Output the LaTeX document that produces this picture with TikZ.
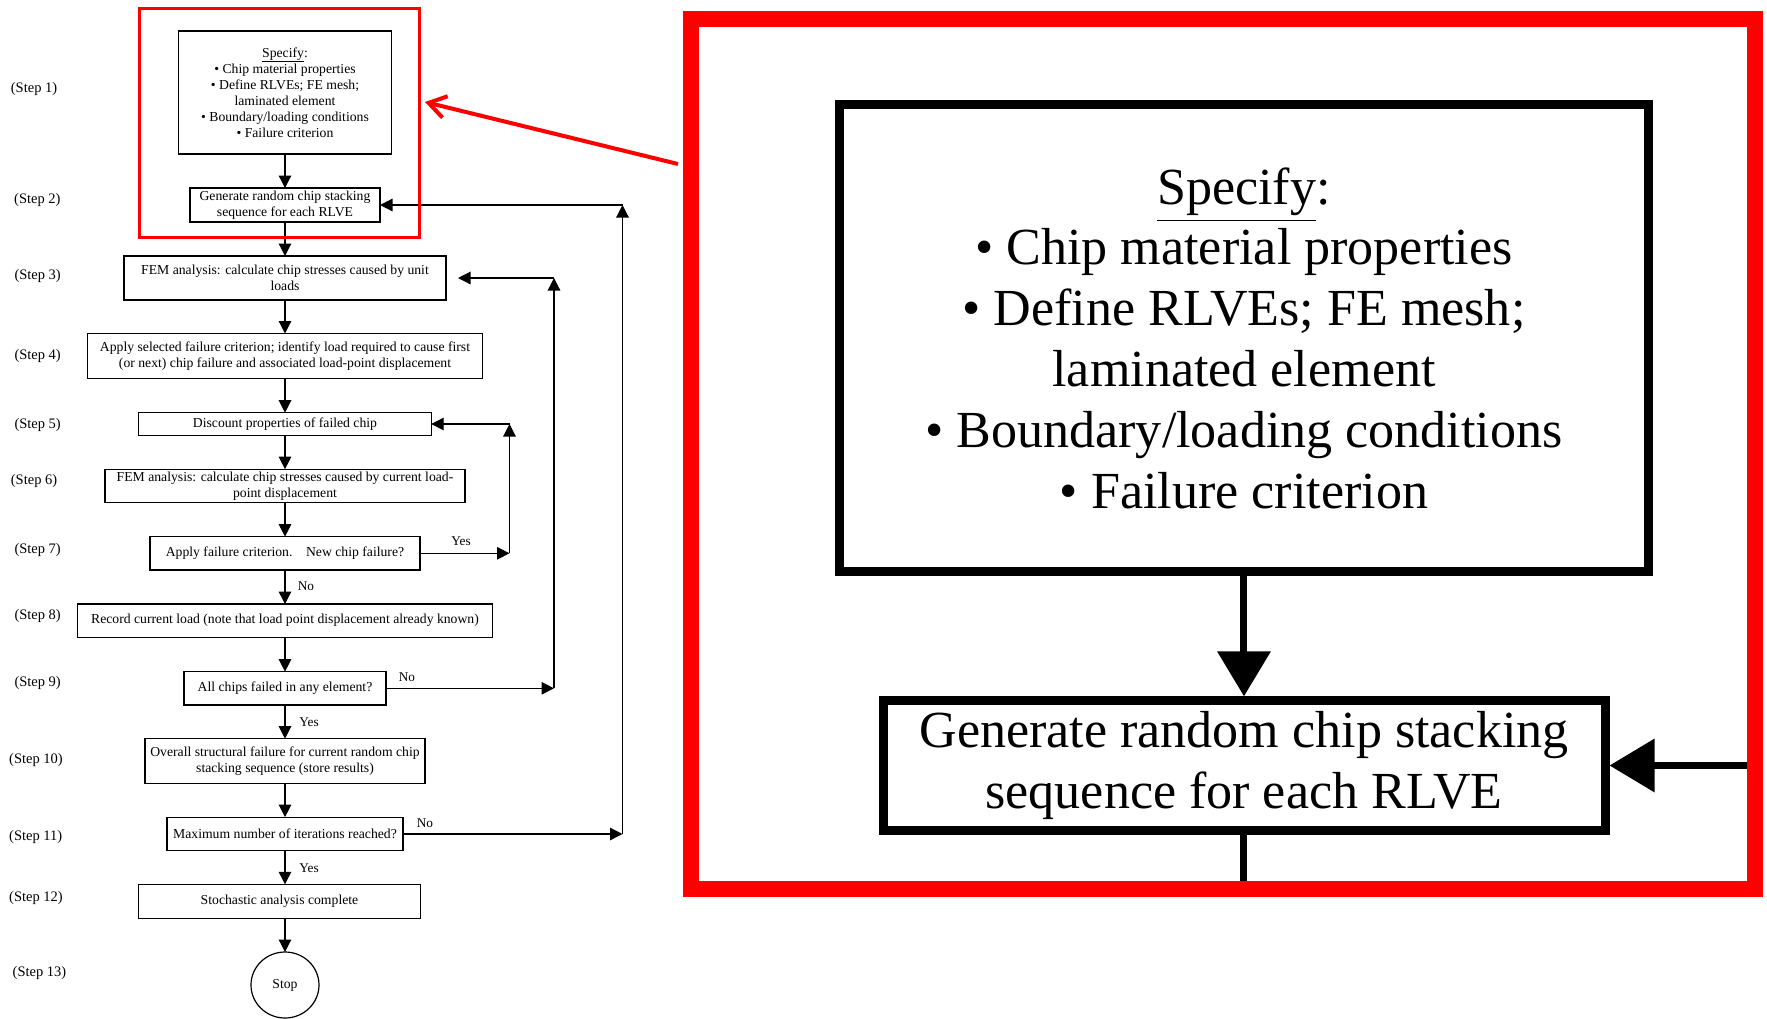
\documentclass[tikz,border=0pt]{standalone}
\usepackage{fontspec}
\setmainfont{Liberation Serif}
\usetikzlibrary{arrows.meta,shapes.geometric}
\newcommand\bxfont{\fontsize{13.7}{16}\selectfont}
\newcommand\lbfont{\fontsize{14.5}{16}\selectfont}
\newcommand\ynfont{\fontsize{13.3}{15}\selectfont}
\definecolor{redx}{RGB}{255,0,0}
\tikzset{
 box/.style={draw, line width=1.2pt, inner sep=0pt, outer sep=0pt, align=center, font=\bxfont},
 conn/.style={line width=1.2pt, -{Triangle[length=12.5pt,width=12.5pt]}},
 plain/.style={line width=1.2pt},
 steplab/.style={anchor=west, inner sep=0pt, font=\lbfont},
 yn/.style={inner sep=0pt, font=\ynfont},
}
\newcommand\topboxes{%
 \node[box, minimum width=213pt, minimum height=123pt] (s1) at (285,92.5) {\underline{Specify}:\\ • Chip material properties\\ • Define RLVEs; FE mesh;\\ laminated element\\ • Boundary/loading conditions\\ • Failure criterion};
 \node[box, minimum width=190pt, minimum height=34pt] (s2) at (285,205) {Generate random chip stacking\\ sequence for each RLVE};
 \draw[conn] (s1.south) -- (s2.north);
}
\begin{document}
\begin{tikzpicture}[x=1pt,y=-1pt]
\useasboundingbox (0,0) rectangle (1767,1018);
\topboxes
\node[box, minimum width=322pt, minimum height=44pt] (s3) at (285,278) {FEM analysis: calculate chip stresses caused by unit\\ loads};
\node[box, minimum width=395.5pt, minimum height=45pt] (s4) at (285,356) {Apply selected failure criterion; identify load required to cause first\\ (or next) chip failure and associated load-point displacement};
\node[box, minimum width=292.4pt, minimum height=22.6pt] (s5) at (285,424) {Discount properties of failed chip};
\node[box, minimum width=360pt, minimum height=33.7pt] (s6) at (285,486) {FEM analysis: calculate chip stresses caused by current load-\\ point displacement};
\node[box, minimum width=270pt, minimum height=33.3pt] (s7) at (285,553.3) {Apply failure criterion.\hspace{9pt} New chip failure?};
\node[box, minimum width=415.5pt, minimum height=33.3pt] (s8) at (285,620.7) {Record current load (note that load point displacement already known)};
\node[box, minimum width=202pt, minimum height=33.3pt] (s9) at (285,688.3) {All chips failed in any element?};
\node[box, minimum width=280pt, minimum height=44.6pt] (s10) at (285,761) {Overall structural failure for current random chip\\ stacking sequence (store results)};
\node[box, minimum width=236pt, minimum height=33.7pt] (s11) at (285,834) {Maximum number of iterations reached?};
\node[box, minimum width=281.4pt, minimum height=34pt] (s12) at (279.5,901.3) {Stochastic analysis complete};
\node[box, ellipse, minimum width=68pt, minimum height=66pt] (stop) at (285,985) {Stop};
% step labels
\node[steplab] (l1) at (10.7,89) {(Step 1)};
\node[steplab] (l2) at (14,200) {(Step 2)};
\node[steplab] (l3) at (14.3,276) {(Step 3)};
\node[steplab] (l4) at (14.3,355.7) {(Step 4)};
\node[steplab] (l5) at (14.3,425) {(Step 5)};
\node[steplab] (l6) at (10.7,480.7) {(Step 6)};
\node[steplab] (l7) at (14.3,550) {(Step 7)};
\node[steplab] (l8) at (14.3,615.7) {(Step 8)};
\node[steplab] (l9) at (14.3,683.3) {(Step 9)};
\node[steplab] (l10) at (9,760) {(Step 10)};
\node[steplab] (l11) at (9,836.7) {(Step 11)};
\node[steplab] (l12) at (9,898.3) {(Step 12)};
\node[steplab] (l13) at (12.5,973) {(Step 13)};
% main column
\draw[conn] (s2.south) -- (s3.north);
\draw[conn] (s3.south) -- (s4.north);
\draw[conn] (s4.south) -- (s5.north);
\draw[conn] (s5.south) -- (s6.north);
\draw[conn] (s6.south) -- (s7.north);
\draw[conn] (s7.south) -- (s8.north);
\draw[conn] (s8.south) -- (s9.north);
\draw[conn] (s9.south) -- (s10.north);
\draw[conn] (s10.south) -- (s11.north);
\draw[conn] (s11.south) -- (s11.south |- s12.north);
\draw[conn] (stop.north |- s12.south) -- (stop.north);
% yes/no
\node[yn] (y7) at (461,541.7) {Yes};
\node[yn] (n7) at (306,586.7) {No};
\node[yn] (n9) at (407,676.7) {No};
\node[yn] (y9) at (309,721.7) {Yes};
\node[yn] (n11) at (425,822.7) {No};
\node[yn] (y11) at (309,868.3) {Yes};
% loops
\coordinate (k7) at (509.5,553.3);
\coordinate (k5) at (509.5,424);
\draw[conn] (s7.east) -- (k7);
\draw[conn] (k7) -- (k5);
\draw[conn] (k5) -- (s5.east);
\coordinate (k9) at (554,688.3);
\coordinate (k3) at (554,278);
\coordinate (k3e) at (458,278);
\draw[conn] (s9.east) -- (k9);
\draw[conn] (k9) -- (k3);
\draw[conn] (k3) -- (k3e);
\coordinate (k11) at (622.5,834);
\coordinate (k2) at (622.5,205);
\draw[conn] (s11.east) -- (k11);
\draw[conn] (k11) -- (k2);
\draw[conn] (k2) -- (s2.east);
% small red frame and pointer
\draw[redx, line width=3.5pt] (139.5,8.5) rectangle (419.5,237.5);
\coordinate (rs) at (678,164);
\coordinate (rt) at (425,102);
\draw[redx, line width=4pt, -{Straight Barb[length=17pt,width=22pt]}] (rs) -- (rt);
% magnified inset
\begin{scope}[shift={(161,-13.5)}, scale=3.8, transform shape, name prefix=z-,
  box/.append style={line width=9pt, outer sep=1.2pt},
  conn/.style={line width=7pt,-{Triangle[length=45pt,width=52pt]}},
  plain/.style={line width=7pt}]
 \begin{scope}
  \clip (139.5,8.5) rectangle (419.5,237.5);
  \topboxes
  \draw[plain] (s2.south) -- ++(0,40);
  \coordinate (far) at (440,205);
  \draw[conn] (far) -- (s2.east);
 \end{scope}
 \draw[redx, line width=16pt] (139.5,8.5) rectangle (419.5,237.5);
\end{scope}
\end{tikzpicture}
\end{document}
